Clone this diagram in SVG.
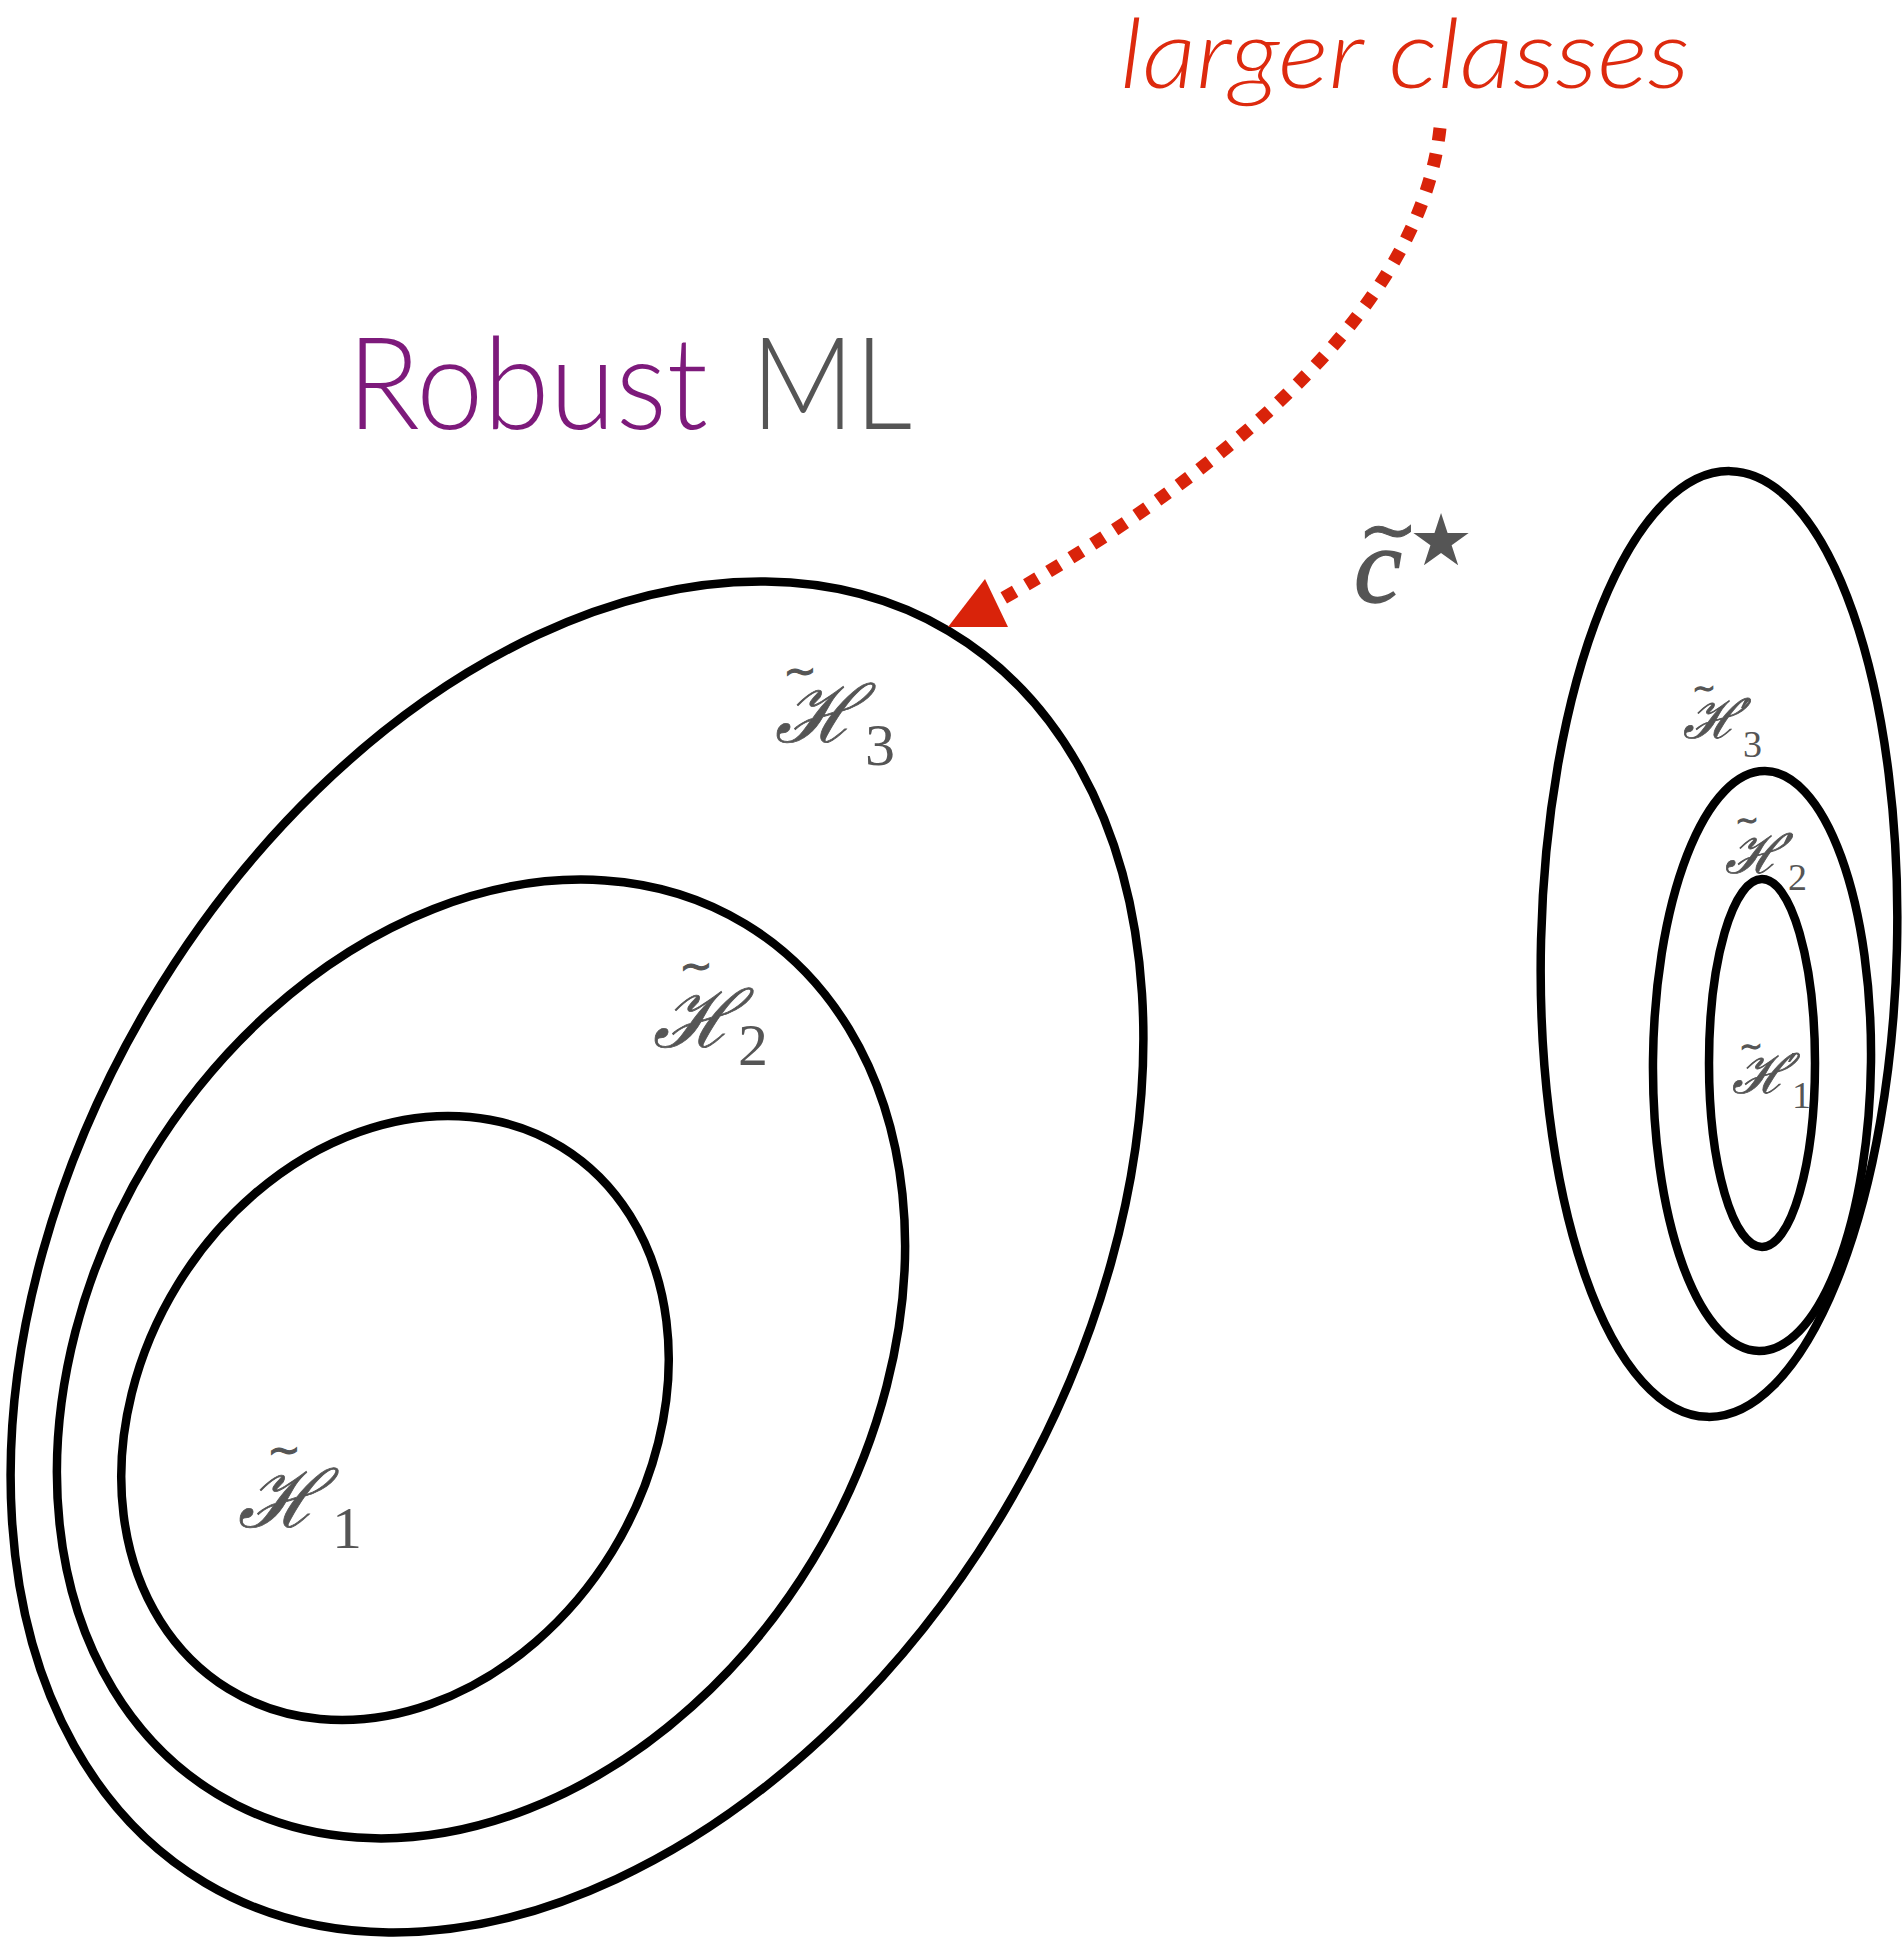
<svg xmlns="http://www.w3.org/2000/svg" width="1902" height="1940" viewBox="0 0 1902 1940">
<style>
.ring{fill:none;stroke:#000;stroke-width:8.5}
.cal{font-family:"DejaVu Serif",serif;font-style:italic;fill:#555;stroke:#555;stroke-width:0.8}
.num{font-family:"Liberation Serif",serif;fill:#555}
.til{font-family:"DejaVu Sans",sans-serif;fill:#555;stroke:#555;stroke-width:1}
.pr{font-family:"DejaVu Serif",serif;fill:#555}
</style>
<rect width="1902" height="1940" fill="#fff"/>
<text x="1120" y="88" font-family="Lato, 'Liberation Sans', sans-serif" font-style="italic" font-weight="300" font-size="96" fill="#DD2A0E" textLength="570" lengthAdjust="spacingAndGlyphs">larger classes</text>
<text y="429" font-family="Lato, 'Liberation Sans', sans-serif" font-weight="300" font-size="128"><tspan x="347" fill="#7D1A7B" textLength="361" lengthAdjust="spacingAndGlyphs">Robust</tspan><tspan x="751" fill="#555" textLength="161" lengthAdjust="spacingAndGlyphs">ML</tspan></text>
<g id="c-star">
<text x="1354" y="602" font-family="'Liberation Serif',serif" font-style="italic" font-size="108" fill="#555" stroke="#555" stroke-width="1.5">c</text>
<text x="1388" y="554" text-anchor="middle" class="til" font-size="72">~</text>
<text x="1441" y="565" text-anchor="middle" font-family="'DejaVu Sans',sans-serif" font-size="72" fill="#555">★</text>
</g>
<g id="H3">
<ellipse class="ring" cx="577" cy="1257" rx="728" ry="497" transform="rotate(-59.3 577 1257)"/>
<text x="775" y="742" class="cal" font-size="80">ℋ</text>
<text x="800" y="685" text-anchor="middle" class="til" font-size="40">~</text>
<text x="865" y="765" class="num" font-size="60">3</text>
</g>
<g id="H2">
<ellipse class="ring" cx="481" cy="1359" rx="509" ry="388" transform="rotate(-58.7 481 1359)"/>
<text x="653" y="1047" class="cal" font-size="80">ℋ</text>
<text x="696" y="980" text-anchor="middle" class="til" font-size="40">~</text>
<text x="738" y="1065" class="num" font-size="60">2</text>
</g>
<g id="H1">
<ellipse class="ring" cx="395" cy="1418" rx="318" ry="255" transform="rotate(-58.4 395 1418)"/>
<text x="238" y="1527" class="cal" font-size="80">ℋ</text>
<text x="284" y="1464" text-anchor="middle" class="til" font-size="40">~</text>
<text x="332" y="1548" class="num" font-size="60">1</text>
</g>
<g id="H3p">
<ellipse class="ring" cx="1719" cy="944" rx="178" ry="473" transform="rotate(1.4 1719 944)"/>
<text x="1683" y="738" class="cal" font-size="54">ℋ</text>
<text x="1704" y="698" text-anchor="middle" class="til" font-size="28">~</text>
<text x="1740" y="736" class="pr" font-size="50">′</text>
<text x="1743" y="757" class="num" font-size="38">3</text>
</g>
<g id="H2p">
<ellipse class="ring" cx="1762" cy="1061" rx="109" ry="290" transform="rotate(0.6 1762 1061)"/>
<text x="1725" y="873" class="cal" font-size="54">ℋ</text>
<text x="1747" y="830" text-anchor="middle" class="til" font-size="28">~</text>
<text x="1783" y="871" class="pr" font-size="50">′</text>
<text x="1788" y="890" class="num" font-size="38">2</text>
</g>
<g id="H1p">
<ellipse class="ring" cx="1762" cy="1063" rx="53" ry="184"/>
<text x="1732" y="1093" class="cal" font-size="54">ℋ</text>
<text x="1751" y="1056" text-anchor="middle" class="til" font-size="28">~</text>
<text x="1787" y="1090" class="pr" font-size="50">′</text>
<text x="1792" y="1108" class="num" font-size="38">1</text>
</g>
<g id="connectors">
<path d="M1440,128 C1422,295 1255,455 1000,600" fill="none" stroke="#D9230A" stroke-width="13" stroke-dasharray="13 13"/>
<polygon points="948,627 985,579 1008,627" fill="#D9230A"/>
</g>
</svg>
